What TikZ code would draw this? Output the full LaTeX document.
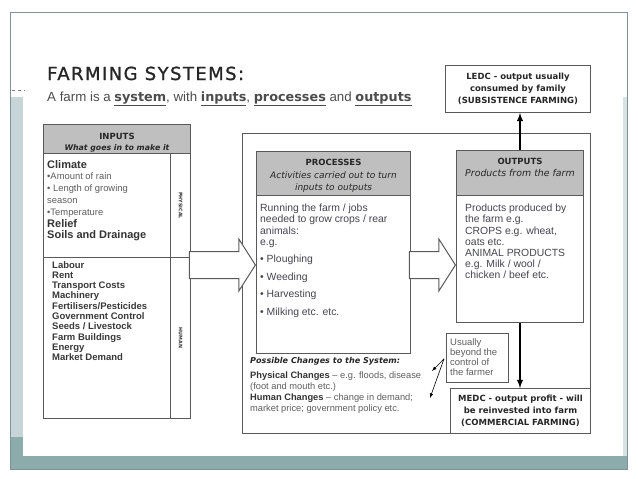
\documentclass[tikz,border=0pt]{standalone}
\usepackage{fontspec}
\setmainfont{Liberation Sans}
\newfontfamily\comicfont{DejaVu Sans}
\newfontfamily\titlefont[LetterSpace=8, FakeBold=1.2]{DejaVu Sans}
\usepackage{xcolor}
\usetikzlibrary{arrows, positioning, shapes, shapes.arrows, calc}
\definecolor{boxline}{HTML}{5A5A5A}
\definecolor{headfill}{HTML}{BFBFBF}
\definecolor{bodygray}{HTML}{45454F}
\definecolor{lightgray}{HTML}{5E5E5E}
\definecolor{slideband}{HTML}{C8D5D8}
\definecolor{slideteal}{HTML}{8CACAB}
\definecolor{slideline}{HTML}{7F9393}
\newcommand{\keyword}[1]{\underline{{\comicfont\bfseries\fontsize{12.8}{15}\selectfont #1}}}
\newcommand{\subhead}{\comicfont\mdseries\itshape\fontsize{9}{11.5}\selectfont}
\tikzset{
	every node/.style={
		align=center,
	},
}
\tikzstyle{panel} = [draw=boxline, line width=1pt, fill=white, anchor=north west, inner sep=0pt]
\tikzstyle{headpanel} = [panel, fill=headfill]
\tikzstyle{headtitle} = [inner sep=0pt, text=black!85, font=\comicfont\bfseries\fontsize{8.5}{11.5}\selectfont]
\tikzstyle{comictext} = [text=black!85, font=\comicfont\bfseries\fontsize{8.5}{12}\selectfont]
\tikzstyle{bodytext} = [anchor=north west, align=left, inner sep=0pt, text=bodygray, font=\fontsize{10.4}{11.2}\selectfont]
\tikzstyle{sidelabel} = [rotate=-90, inner sep=0pt, text=black!80, font=\comicfont\bfseries\fontsize{4.8}{5}\selectfont]
\tikzstyle{bigarrow} = [single arrow, draw=boxline, line width=1pt, fill=white, inner xsep=0pt, inner ysep=13pt, single arrow head extend=12.5pt, single arrow tip angle=115, anchor=tip]
\tikzstyle{flow} = [line width=1.8pt, -latex]
\tikzstyle{pointer} = [line width=.6pt, -latex]

\begin{document}
\begin{tikzpicture}[x=1pt, y=-1pt]
        \useasboundingbox (0,0) rectangle (638,479);
        % slide frame
        \fill[slideband] (10,97) rectangle (23,437);
        \fill[slideteal] (10,437) rectangle (23,469);
        \fill[slideteal] (10,456) rectangle (627,469);
        \fill[slideband!70] (623,97) rectangle (627,456);
        \draw[slideline, line width=.6pt] (10,12) rectangle (627,469);
        \draw[gray, dashed, line width=.4pt] (12,90) -- (25,90);
        % heading
        \node[anchor=base west, inner sep=0pt, text=black!85, font=\titlefont\fontsize{18}{20}\selectfont] (title) at (47,80) {FARMING SYSTEMS:};
        \node[anchor=base west, inner sep=0pt, text=black!70, font=\fontsize{13.3}{15}\selectfont] (subtitle) at (47,101) {A farm is a \keyword{system}, with \keyword{inputs}, \keyword{processes} and \keyword{outputs}};
        % inputs
        \node[headpanel, minimum width=147pt, minimum height=29pt] (inhead) at (43,124) {};
        \node[panel, minimum width=127pt, minimum height=104pt] (inphys) at (43,153) {};
        \node[panel, minimum width=20pt, minimum height=104pt] (physcol) at (170,153) {};
        \node[panel, minimum width=127pt, minimum height=161pt] (inhum) at (43,257) {};
        \node[panel, minimum width=20pt, minimum height=161pt] (humcol) at (170,257) {};
        \node[headtitle, below=8.5pt of inhead.north] (intitle) {INPUTS\\{\itshape\fontsize{7.8}{11.5}\selectfont What goes in to make it}};
        \node[sidelabel] (physlbl) at (physcol.center) {PHYSICAL};
        \node[sidelabel] (humlbl) at (humcol.center) {HUMAN};
        \node[bodytext, text=lightgray, font=\fontsize{9.4}{11.8}\selectfont] (physlist) at ($(inphys.north west)+(4,7)$) {{\bfseries\color{black!80}\fontsize{11}{11.8}\selectfont Climate}\\
                \textbullet Amount of rain\\
                \textbullet\ Length of growing\\
                season\\
                \textbullet Temperature\\
                {\bfseries\color{black!80}\fontsize{11}{11.8}\selectfont Relief}\\
                {\bfseries\color{black!80}\fontsize{11}{11.8}\selectfont Soils and Drainage}};
        \node[bodytext, text=black!78, font=\bfseries\fontsize{9.5}{10.3}\selectfont] (humlist) at ($(inhum.north west)+(9,4)$) {Labour\\Rent\\Transport Costs\\Machinery\\Fertilisers/Pesticides\\Government Control\\Seeds / Livestock\\Farm Buildings\\Energy\\Market Demand};
        % system
        \node[panel, minimum width=348pt, minimum height=300pt] (system) at (242,133) {};
        % processes
        \node[headpanel, minimum width=154pt, minimum height=44pt] (prochead) at (256,151) {};
        \node[panel, minimum width=154pt, minimum height=158pt] (procbody) at (256,195) {};
        \node[headtitle, below=7.5pt of prochead.north] (proctitle) {PROCESSES\\[2pt]{\subhead Activities carried out to turn}\\{\subhead inputs to outputs}};
        \node[bodytext] (proclist) at ($(procbody.north west)+(4,9)$) {Running the farm / jobs\\needed to grow crops / rear\\animals:\\e.g.\\[6pt]
                \textbullet\ Ploughing\\[6.4pt]
                \textbullet\ Weeding\\[6.4pt]
                \textbullet\ Harvesting\\[6.4pt]
                \textbullet\ Milking etc. etc.};
        % outputs
        \node[headpanel, minimum width=127pt, minimum height=45pt] (outhead) at (456,150) {};
        \node[panel, minimum width=127pt, minimum height=127pt] (outbody) at (456,195) {};
        \node[headtitle, below=7.5pt of outhead.north] (outtitle) {OUTPUTS\\[1pt]{\subhead\fontsize{9.4}{11.5}\selectfont Products from the farm}};
        \node[bodytext] (outlist) at ($(outbody.north west)+(9,9)$) {Products produced by\\the farm e.g.\\CROPS e.g. wheat,\\oats etc.\\ANIMAL PRODUCTS\\e.g. Milk / wool /\\chicken / beef etc.};
        % connectors
        \coordinate (midrow) at (0,265);
        \node[bigarrow, minimum height=66pt] (inarrow) at (procbody.west |- midrow) {};
        \node[bigarrow, minimum height=46pt] (outarrow) at (outbody.west |- midrow) {};
        \node[panel, minimum width=145pt, minimum height=47pt, comictext] (ledc) at (445,65) {LEDC - output usually\\consumed by family\\(SUBSISTENCE FARMING)};
        \node[panel, minimum width=140pt, minimum height=45pt, comictext] (medc) at (450,388) {MEDC - output profit - will\\be reinvested into farm\\(COMMERCIAL FARMING)};
        \draw[flow] (outhead.north) -- (ledc.south -| outhead.north);
        \draw[flow] (outbody.south) -- (outbody.south |- medc.north);
        % changes
        \node[panel, line width=.8pt, minimum width=62pt, minimum height=49pt] (note) at (446,333) {};
        \node[bodytext, text=lightgray, font=\fontsize{9.5}{10.3}\selectfont] (notetext) at ($(note.north west)+(4,5)$) {Usually\\beyond the\\control of\\the farmer};
        \node[anchor=west, inner sep=0pt, text=black!85, font=\comicfont\bfseries\itshape\fontsize{8.1}{9}\selectfont] (changehead) at ($(procbody.south west)+(-6,7)$) {Possible Changes to the System:};
        \node[bodytext, text=lightgray, font=\fontsize{9.3}{11}\selectfont] (changes) at ($(procbody.south west)+(-6,18)$) {{\bfseries\color{black!80}Physical Changes} -- e.g. floods, disease\\(foot and mouth etc.)\\{\bfseries\color{black!80}Human Changes} -- change in demand;\\market price; government policy etc.};
        \coordinate (notefoot) at ($(note.west)+(-2,1)$);
        \coordinate (physend) at (432,371);
        \coordinate (humend) at (430,398);
        \draw[pointer] (notefoot) -- (physend);
        \draw[pointer] (notefoot) -- (humend);
\end{tikzpicture}
\end{document}
